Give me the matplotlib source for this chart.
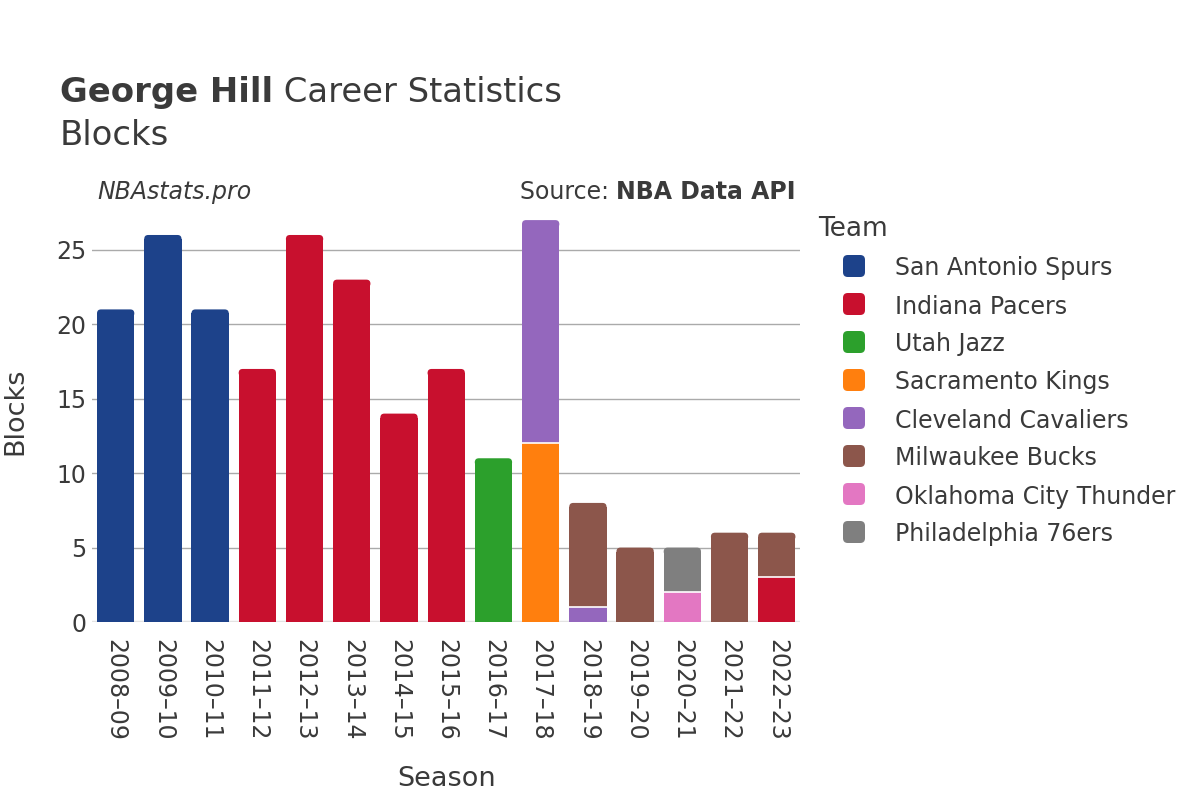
import matplotlib
matplotlib.use("Agg")
import matplotlib.pyplot as plt
from matplotlib.patches import FancyBboxPatch
import numpy as np

seasons = ["2008–09", "2009–10", "2010–11", "2011–12", "2012–13", "2013–14",
           "2014–15", "2015–16", "2016–17", "2017–18", "2018–19", "2019–20",
           "2020–21", "2021–22", "2022–23"]

teams = ["San Antonio Spurs", "Indiana Pacers", "Utah Jazz", "Sacramento Kings",
         "Cleveland Cavaliers", "Milwaukee Bucks", "Oklahoma City Thunder",
         "Philadelphia 76ers"]
team_colors = ["#1d428a", "#c8102e", "#2ca02c", "#ff7f0e",
               "#9467bd", "#8c564b", "#e377c2", "#7f7f7f"]

# blocks per season for each team (trace order = stacking order)
spurs     = [21, 26, 21, 0, 0, 0, 0, 0, 0, 0, 0, 0, 0, 0, 0]
pacers    = [0, 0, 0, 17, 26, 23, 14, 17, 0, 0, 0, 0, 0, 0, 3]
jazz      = [0, 0, 0, 0, 0, 0, 0, 0, 11, 0, 0, 0, 0, 0, 0]
kings     = [0, 0, 0, 0, 0, 0, 0, 0, 0, 12, 0, 0, 0, 0, 0]
cavaliers = [0, 0, 0, 0, 0, 0, 0, 0, 0, 15, 1, 0, 0, 0, 0]
bucks     = [0, 0, 0, 0, 0, 0, 0, 0, 0, 0, 7, 5, 0, 6, 3]
thunder   = [0, 0, 0, 0, 0, 0, 0, 0, 0, 0, 0, 0, 2, 0, 0]
sixers    = [0, 0, 0, 0, 0, 0, 0, 0, 0, 0, 0, 0, 3, 0, 0]
series = [spurs, pacers, jazz, kings, cavaliers, bucks, thunder, sixers]

TEXT = "#3a3a3a"
plt.rcParams["font.family"] = ["DejaVu Sans"]

fig = plt.figure(figsize=(12, 8), dpi=100)
ax = fig.add_axes([0.0767, 0.2225, 0.5903, 0.5275])

x = np.arange(len(seasons))
width = 0.79
data = np.array(series, dtype=float)
totals = data.sum(axis=0)
ymax = totals.max() * 1.05
ax.set_xlim(-0.5, len(seasons) - 0.5)
ax.set_ylim(0, ymax)

# corner rounding sizes in data units
rx = 0.085
ry = 4 / (0.5275 * 800) * ymax

bottom = np.zeros(len(seasons))
for vals, color in zip(data, team_colors):
    for i, v in enumerate(vals):
        if v <= 0:
            continue
        is_top = np.isclose(bottom[i] + v, totals[i])
        h = v - ry if is_top else v
        ax.bar(x[i], h, width=width, bottom=bottom[i], color=color,
               edgecolor="none", linewidth=0, zorder=3)
        if is_top:
            top = bottom[i] + v
            patch = FancyBboxPatch((x[i] - width / 2, top - 2 * ry), width, 2 * ry,
                                   boxstyle=f"round,pad=0,rounding_size={rx}",
                                   mutation_aspect=ry / rx,
                                   facecolor=color, edgecolor="none", zorder=3)
            ax.add_patch(patch)
        if bottom[i] > 0:
            # thin white separator between stacked segments
            ax.hlines(bottom[i], x[i] - width / 2, x[i] + width / 2,
                      color="white", linewidth=1.2, zorder=4)
    bottom += vals

# axes styling
for s in ax.spines.values():
    s.set_visible(False)
ax.set_yticks([0, 5, 10, 15, 20, 25])
ax.yaxis.grid(True, color="#aaaaaa", linewidth=1)
ax.set_axisbelow(True)
ax.axhline(0, color="#e3e3e3", linewidth=2.5, zorder=2)
ax.tick_params(axis="both", length=0, labelsize=17, labelcolor=TEXT)
ax.tick_params(axis="y", pad=4)
ax.set_xticks(x)
ax.set_xticklabels(seasons, rotation=-90, va="top", ha="center")
ax.tick_params(axis="x", pad=12)
ax.set_xlabel("Season", fontsize=19.5, color=TEXT, labelpad=18)
ax.set_ylabel("Blocks", fontsize=19.5, color=TEXT, labelpad=20)

fig.canvas.draw()
renderer = fig.canvas.get_renderer()
inv = fig.transFigure.inverted()

# title
t1 = fig.text(60 / 1200, 1 - 102 / 800, "George Hill", fontsize=24.4,
              fontweight="bold", color=TEXT, va="baseline", ha="left")
bb = t1.get_window_extent(renderer)
fig.text(inv.transform((bb.x1, 0))[0], 1 - 102 / 800, " Career Statistics",
         fontsize=24.4, color=TEXT, va="baseline", ha="left")
fig.text(60 / 1200, 1 - 145 / 800, "Blocks", fontsize=24.4, color=TEXT,
         va="baseline", ha="left")

# watermark and source
fig.text(97 / 1200, 1 - 199 / 800, "NBAstats.pro", fontsize=17, style="italic",
         color=TEXT, va="baseline", ha="left")
s2 = fig.text(796 / 1200, 1 - 199 / 800, "NBA Data API", fontsize=17,
              fontweight="bold", color=TEXT, va="baseline", ha="right")
bb = s2.get_window_extent(renderer)
fig.text(inv.transform((bb.x0, 0))[0], 1 - 199 / 800, "Source: ", fontsize=17,
         color=TEXT, va="baseline", ha="right")

# legend
fig.text(818 / 1200, 1 - 236 / 800, "Team", fontsize=19, color=TEXT,
         va="baseline", ha="left")
for k, (name, color) in enumerate(zip(teams, team_colors)):
    yc = 266 + 38 * k
    mk = FancyBboxPatch((843 / 1200, 1 - (yc + 11) / 800), 22 / 1200, 22 / 800,
                        boxstyle="round,pad=0,rounding_size=0.004",
                        mutation_aspect=1.5, transform=fig.transFigure,
                        facecolor=color, edgecolor="none")
    fig.patches.append(mk)
    fig.text(895 / 1200, 1 - yc / 800, name, fontsize=17, color=TEXT,
             va="center_baseline", ha="left")

fig.savefig("out.png", dpi=100)
